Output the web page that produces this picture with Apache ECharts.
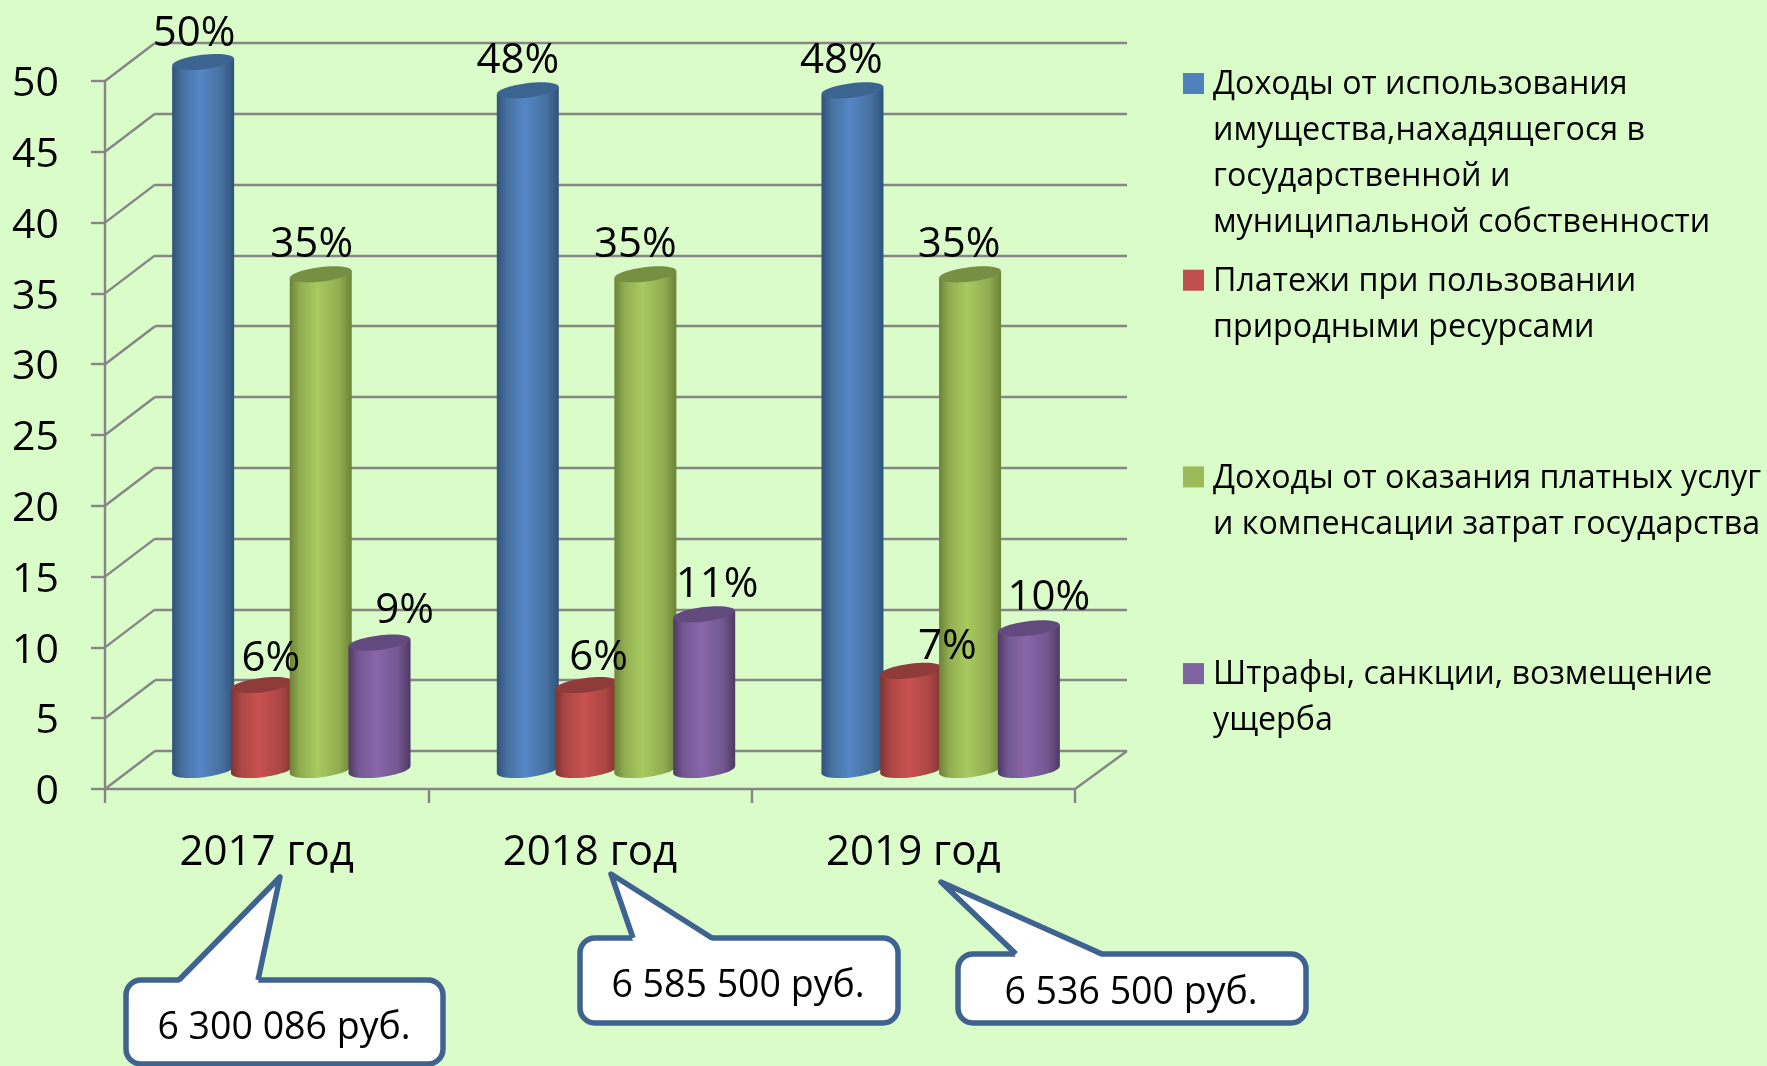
<!DOCTYPE html>
<html><head><meta charset="utf-8">
<style>html,body{margin:0;padding:0;background:#D9FCC9}#c{width:1767px;height:1066px}</style>
<script src="https://cdn.jsdelivr.net/npm/echarts@6/dist/echarts.min.js"></script>
</head><body><div id="c"></div>
<script>
const categories = ['2017 год', '2018 год', '2019 год'];
const yTicks = [0, 5, 10, 15, 20, 25, 30, 35, 40, 45, 50];

const incomeProperty = [50, 48, 48];
const naturalResources = [6, 6, 7];
const paidServices = [35, 35, 35];
const penalties = [9, 11, 10];

const nameProperty = 'Доходы от использования\nимущества,нахадящегося в\nгосударственной и\nмуниципальной собственности';
const nameResources = 'Платежи при пользовании\nприродными ресурсами';
const nameServices = 'Доходы от оказания платных услуг\nи компенсации затрат государства';
const namePenalties = 'Штрафы, санкции, возмещение\nущерба';

const callouts = [
  { text: '6 300 086 руб.', box: [126, 980, 317, 84], base: [179, 258], tip: [280, 877], tx: 284, ty: 1025 },
  { text: '6 585 500 руб.', box: [580, 938, 318, 85], base: [633, 712], tip: [611, 874], tx: 738, ty: 983 },
  { text: '6 536 500 руб.', box: [958, 954, 348, 69], base: [1016, 1102], tip: [941, 882], tx: 1131, ty: 990 }
];

const FONT = '"Open Sans", "Noto Sans", sans-serif';
const AXIS = '#868686';
const BG = '#D9FCC9';
const INK = '#000000';

const palette = [
  { edge: '#2F5279', mid: '#47709F', light: '#5586C6', top: '#3C6491', flat: '#4F81BD' },
  { edge: '#7F3432', mid: '#AB4644', light: '#C9524F', top: '#8F3B39', flat: '#C0504D' },
  { edge: '#6C8238', mid: '#90AD50', light: '#A8CA60', top: '#778F43', flat: '#9BBB59' },
  { edge: '#4E3A62', mid: '#735791', light: '#8966AB', top: '#634A7E', flat: '#8064A2' }
];
const seriesDefs = [
  { name: nameProperty, values: incomeProperty },
  { name: nameResources, values: naturalResources },
  { name: nameServices, values: paidServices },
  { name: namePenalties, values: penalties }
];
// label centre relative to the cylinder's top centre
const labelShift = [
  [[-9, -28], [-10, -29], [-11, -29]],
  [[9, -26], [12, -27], [36, -24]],
  [[-9, -29], [-10, -29], [-11, -29]],
  [[25, -32], [13, -29], [20, -30]]
];

const BAR_STEP = 58.8, RX = 31, RY = 7.2, TILT = 0.12, SKEW = 3.7;

function cylinder(si) {
  const c = palette[si];
  const grad = {
    type: 'linear', x: 0, y: 0, x2: 1, y2: 0,
    colorStops: [
      { offset: 0, color: c.edge }, { offset: 0.16, color: c.mid },
      { offset: 0.45, color: c.light }, { offset: 0.8, color: c.mid },
      { offset: 1, color: c.edge }
    ]
  };
  return function (params, api) {
    const cat = api.value(0), val = api.value(1);
    const top = api.coord([cat, val]);
    const base = api.coord([cat, 0]);
    const cx = top[0] + (si - 1.5) * BAR_STEP;
    const sh = labelShift[si][cat];
    return {
      type: 'group',
      children: [
        { type: 'ellipse', x: cx, y: base[1], rotation: TILT, shape: { cx: 0, cy: 0, rx: RX, ry: RY }, style: { fill: grad } },
        { type: 'polygon', shape: { points: [[cx - RX, top[1] + SKEW], [cx + RX, top[1] - SKEW], [cx + RX, base[1] - SKEW], [cx - RX, base[1] + SKEW]] }, style: { fill: grad } },
        { type: 'ellipse', x: cx, y: top[1], rotation: TILT, shape: { cx: 0, cy: 0, rx: RX, ry: RY }, style: { fill: c.top } },
        { type: 'text', z2: 100, x: cx + sh[0], y: top[1] + sh[1], style: { text: val + '%', fill: INK, font: '42px ' + FONT, textAlign: 'center', textVerticalAlign: 'middle' } }
      ]
    };
  };
}

function wallLines(params, api) {
  const v = api.value(1);
  const p = api.coord([0, v]);
  const L = params.coordSys.x, R = L + params.coordSys.width;
  const st = { stroke: AXIS, lineWidth: 2.4 };
  const kids = [{ type: 'line', shape: { x1: L, y1: p[1], x2: L + 50, y2: p[1] - 38 }, style: st }];
  if (v === 0) kids.push({ type: 'line', shape: { x1: R, y1: p[1], x2: R + 52, y2: p[1] - 38 }, style: st });
  return { type: 'group', children: kids };
}

const graphics = [];
seriesDefs.forEach((s, i) => {
  const y0 = 73 + i * 196.7;
  graphics.push({ type: 'rect', shape: { x: 1183, y: y0, width: 21, height: 21 }, style: { fill: palette[i].flat } });
  graphics.push({ type: 'text', x: 1213, y: y0 - 11, style: { text: s.name, fill: INK, font: '32.2px ' + FONT, lineHeight: 46, textVerticalAlign: 'top' } });
});
callouts.forEach(k => {
  const [x, y, w, h] = k.box;
  const st = '#3F6391';
  graphics.push({ type: 'rect', shape: { x, y, width: w, height: h, r: 15 }, style: { fill: '#FFFFFF', stroke: st, lineWidth: 5.5 } });
  graphics.push({ type: 'polygon', shape: { points: [[k.base[0], y + 3], k.tip, [k.base[1], y + 3]] }, style: { fill: '#FFFFFF' } });
  graphics.push({ type: 'polyline', shape: { points: [[k.base[0], y], k.tip, [k.base[1], y]] }, style: { fill: null, stroke: st, lineWidth: 5.5, lineJoin: 'round' } });
  graphics.push({ type: 'text', x: k.tx, y: k.ty + 3, style: { text: k.text, fill: INK, font: '37.5px ' + FONT, textAlign: 'center', textVerticalAlign: 'middle' } });
});

const hiddenCat = { type: 'category', data: categories, axisLine: { show: false }, axisTick: { show: false }, axisLabel: { show: false }, splitLine: { show: false } };
const chart = echarts.init(document.getElementById('c'), null, { renderer: 'canvas' });
chart.setOption({
  backgroundColor: BG,
  animation: false,
  tooltip: { show: false },
  grid: [
    { left: 105, top: 81, width: 970, height: 708 },   // front plane: visible axes
    { left: 155, top: 43, width: 972, height: 708 },   // back wall: gridlines
    { left: 129, top: 62, width: 974, height: 708 }    // mid plane: cylinders
  ],
  xAxis: [
    {
      type: 'category', gridIndex: 0, data: categories,
      axisLine: { show: true, lineStyle: { color: AXIS, width: 2.4 } },
      axisTick: { show: true, length: 14, lineStyle: { color: AXIS, width: 2.4 } },
      axisLabel: { show: true, color: INK, fontSize: 42, fontFamily: FONT, margin: 43, interval: 0 }
    },
    Object.assign({ gridIndex: 1 }, hiddenCat),
    Object.assign({ gridIndex: 2 }, hiddenCat)
  ],
  yAxis: [
    {
      type: 'value', gridIndex: 0, min: 0, max: 50, interval: 5,
      axisLine: { show: true, lineStyle: { color: AXIS, width: 2.4 } },
      axisTick: { show: true, length: 14, lineStyle: { color: AXIS, width: 2.4 } },
      axisLabel: {
        show: true, margin: 46, formatter: '{a|{value}}',
        rich: { a: { color: INK, fontSize: 41, fontFamily: FONT, padding: [7, 0, 0, 0] } }
      },
      splitLine: { show: false }
    },
    {
      type: 'value', gridIndex: 1, min: 0, max: 50, interval: 5,
      axisLine: { show: false }, axisTick: { show: false }, axisLabel: { show: false },
      splitLine: { show: true, lineStyle: { color: AXIS, width: 2.4 } }
    },
    {
      type: 'value', gridIndex: 2, min: 0, max: 50, interval: 5,
      axisLine: { show: false }, axisTick: { show: false }, axisLabel: { show: false }, splitLine: { show: false }
    }
  ],
  graphic: graphics,
  series: [
    {
      type: 'custom', name: 'wall', xAxisIndex: 0, yAxisIndex: 0, silent: true,
      data: yTicks.map(v => [0, v]), encode: { x: 0, y: 1 }, renderItem: wallLines
    }
  ].concat(seriesDefs.map((s, si) => ({
    type: 'custom', name: s.name, xAxisIndex: 2, yAxisIndex: 2, silent: true,
    data: s.values.map((v, i) => [i, v]), encode: { x: 0, y: 1 }, renderItem: cylinder(si)
  })))
});
</script></body></html>
